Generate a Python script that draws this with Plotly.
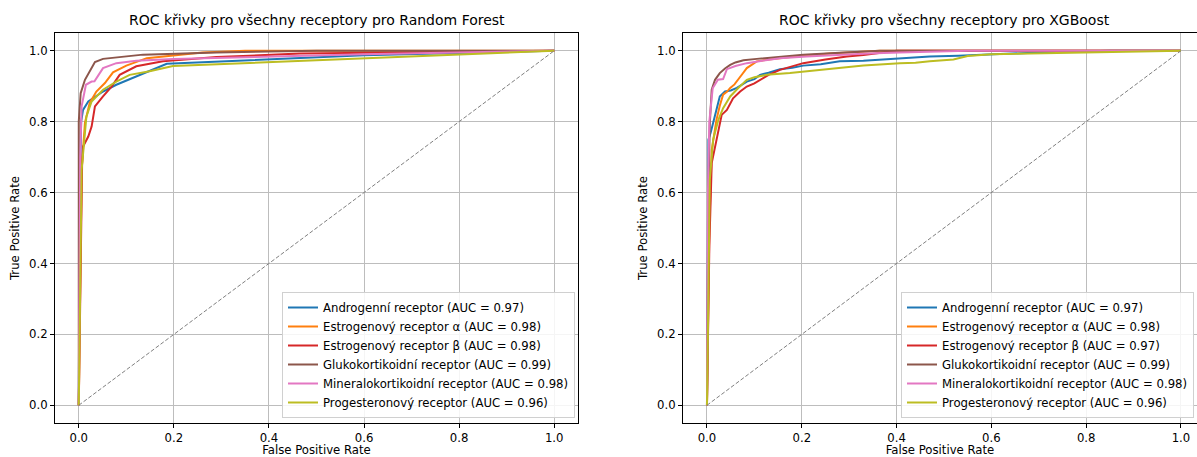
import plotly.graph_objects as go

# ---------------- data ----------------
receptors = ["Androgenní receptor", "Estrogenový receptor α", "Estrogenový receptor β",
             "Glukokortikoidní receptor", "Mineralokortikoidní receptor", "Progesteronový receptor"]
rf_auc = [0.97, 0.98, 0.98, 0.99, 0.98, 0.96]
xgb_auc = [0.97, 0.98, 0.97, 0.99, 0.98, 0.96]
colors = ["#1f77b4", "#ff7f0e", "#d62728", "#8c564b", "#e377c2", "#bcbd22"]

# Random Forest ROC curves
rf_andro_fpr = [0, 0.002, 0.005, 0.009, 0.02, 0.037, 0.051, 0.079, 0.121, 0.185, 0.6, 1.0]
rf_andro_tpr = [0, 0.6, 0.8, 0.833, 0.857, 0.871, 0.885, 0.904, 0.927, 0.963, 0.987, 1.0]
rf_esta_fpr = [0, 0.004, 0.006, 0.013, 0.023, 0.037, 0.055, 0.072, 0.1, 0.143, 0.26, 0.35, 1.0]
rf_esta_tpr = [0, 0.5, 0.664, 0.797, 0.853, 0.885, 0.909, 0.939, 0.958, 0.979, 0.995, 1.0, 1.0]
rf_estb_fpr = [0, 0.004, 0.007, 0.009, 0.02, 0.027, 0.034, 0.051, 0.069, 0.086, 0.121, 0.177, 0.29, 0.465, 1.0]
rf_estb_tpr = [0, 0.5, 0.68, 0.73, 0.758, 0.786, 0.843, 0.871, 0.899, 0.932, 0.956, 0.97, 0.982, 0.992, 1.0]
rf_gluko_fpr = [0, 0.0, 0.004, 0.013, 0.034, 0.051, 0.135, 0.29, 0.5, 1.0]
rf_gluko_tpr = [0, 0.8, 0.88, 0.918, 0.968, 0.977, 0.989, 0.995, 1.0, 1.0]
rf_mineral_fpr = [0, 0.003, 0.006, 0.015, 0.027, 0.033, 0.051, 0.079, 0.121, 0.199, 0.6, 1.0]
rf_mineral_tpr = [0, 0.7, 0.843, 0.904, 0.913, 0.914, 0.951, 0.965, 0.972, 0.977, 0.99, 1.0]
rf_proges_fpr = [0, 0.005, 0.006, 0.016, 0.027, 0.051, 0.079, 0.107, 0.149, 0.198, 0.6, 1.0]
rf_proges_tpr = [0, 0.5, 0.664, 0.814, 0.857, 0.89, 0.913, 0.932, 0.942, 0.957, 0.979, 1.0]

# XGBoost ROC curves
xgb_andro_fpr = [0, 0.002, 0.003, 0.008, 0.013, 0.02, 0.027, 0.038, 0.05, 0.063, 0.075, 0.084, 0.1, 0.112, 0.13, 0.154,
                 0.18, 0.203, 0.24, 0.28, 0.33, 0.4, 0.44, 0.47, 0.53, 0.6, 0.7, 0.85, 1.0]
xgb_andro_tpr = [0, 0.55, 0.749, 0.77, 0.796, 0.84, 0.871, 0.885, 0.888, 0.895, 0.905, 0.913, 0.92, 0.932, 0.938, 0.948,
                 0.952, 0.958, 0.962, 0.97, 0.972, 0.977, 0.981, 0.984, 0.986, 0.99, 0.995, 1.0, 1.0]
xgb_esta_fpr = [0, 0.005, 0.01, 0.015, 0.02, 0.027, 0.034, 0.042, 0.049, 0.058, 0.066, 0.075, 0.084, 0.095, 0.105, 0.13,
                0.154, 0.2, 0.26, 0.31, 0.365, 1.0]
xgb_esta_tpr = [0, 0.5, 0.72, 0.765, 0.805, 0.845, 0.876, 0.884, 0.895, 0.905, 0.918, 0.935, 0.951, 0.962, 0.97, 0.975,
                0.979, 0.986, 0.992, 0.996, 1.0, 1.0]
xgb_estb_fpr = [0, 0.005, 0.01, 0.017, 0.024, 0.031, 0.042, 0.048, 0.055, 0.07, 0.084, 0.1, 0.112, 0.13, 0.154, 0.18,
                0.203, 0.25, 0.295, 0.33, 0.365, 0.4, 1.0]
xgb_estb_tpr = [0, 0.45, 0.683, 0.73, 0.775, 0.819, 0.833, 0.85, 0.866, 0.885, 0.899, 0.908, 0.918, 0.932, 0.946, 0.955,
                0.965, 0.975, 0.984, 0.988, 0.993, 1.0, 1.0]
xgb_gluko_fpr = [0, 0.003, 0.006, 0.01, 0.017, 0.027, 0.038, 0.049, 0.06, 0.077, 0.105, 0.14, 0.175, 0.203, 0.28, 0.365, 1.0]
xgb_gluko_tpr = [0, 0.6, 0.796, 0.89, 0.918, 0.937, 0.95, 0.96, 0.967, 0.973, 0.977, 0.981, 0.984, 0.989, 0.994, 1.0, 1.0]
xgb_mineral_fpr = [0, 0.002, 0.005, 0.012, 0.023, 0.034, 0.042, 0.06, 0.084, 0.12, 0.154, 0.21, 0.28, 0.34, 0.407, 0.55, 1.0]
xgb_mineral_tpr = [0, 0.6, 0.8, 0.894, 0.918, 0.92, 0.948, 0.957, 0.965, 0.972, 0.979, 0.984, 0.989, 0.992, 0.995, 1.0, 1.0]
xgb_proges_fpr = [0, 0.004, 0.006, 0.013, 0.024, 0.034, 0.049, 0.066, 0.084, 0.1, 0.126, 0.175, 0.238, 0.28, 0.33, 0.407,
                  0.44, 0.47, 0.52, 0.55, 0.6, 1.0]
xgb_proges_tpr = [0, 0.4, 0.636, 0.749, 0.805, 0.838, 0.871, 0.895, 0.918, 0.925, 0.932, 0.937, 0.946, 0.952, 0.958, 0.965,
                  0.966, 0.97, 0.975, 0.985, 0.99, 1.0]

diag = [0, 1]

rf_curves = [(rf_andro_fpr, rf_andro_tpr), (rf_esta_fpr, rf_esta_tpr), (rf_estb_fpr, rf_estb_tpr),
             (rf_gluko_fpr, rf_gluko_tpr), (rf_mineral_fpr, rf_mineral_tpr), (rf_proges_fpr, rf_proges_tpr)]
xgb_curves = [(xgb_andro_fpr, xgb_andro_tpr), (xgb_esta_fpr, xgb_esta_tpr), (xgb_estb_fpr, xgb_estb_tpr),
              (xgb_gluko_fpr, xgb_gluko_tpr), (xgb_mineral_fpr, xgb_mineral_tpr), (xgb_proges_fpr, xgb_proges_tpr)]

# ---------------- figure ----------------
W, H = 1197, 457
ML, MR, MT, MB = 55, 0, 33, 34
plot_w = W - ML - MR
FONT = "DejaVu Sans"
FS = 11.7

fig = go.Figure()

for i in range(6):
    fx, ty = rf_curves[i]
    fig.add_trace(go.Scatter(x=fx, y=ty, mode="lines",
                             line=dict(color=colors[i], width=2),
                             name=f"{receptors[i]} (AUC = {rf_auc[i]:.2f})",
                             xaxis="x", yaxis="y", legend="legend"))
fig.add_trace(go.Scatter(x=diag, y=diag, mode="lines", line=dict(color="grey", width=1, dash="4px,2px"),
                         showlegend=False, xaxis="x", yaxis="y", hoverinfo="skip"))

for i in range(6):
    fx, ty = xgb_curves[i]
    fig.add_trace(go.Scatter(x=fx, y=ty, mode="lines",
                             line=dict(color=colors[i], width=2),
                             name=f"{receptors[i]} (AUC = {xgb_auc[i]:.2f})",
                             xaxis="x2", yaxis="y2", legend="legend2"))
fig.add_trace(go.Scatter(x=diag, y=diag, mode="lines", line=dict(color="grey", width=1, dash="4px,2px"),
                         showlegend=False, xaxis="x2", yaxis="y2", hoverinfo="skip"))

d1 = [0, (578 - ML) / plot_w]
d2 = [(683 - ML) / plot_w, 1]

axis_common = dict(
    showgrid=True, gridcolor="#bdbdbd", gridwidth=1, zeroline=False,
    showline=True, linecolor="black", linewidth=1,
    ticks="outside", ticklen=4, tickcolor="black", tickwidth=1,
    tick0=0, dtick=0.2, tickformat=".1f",
    tickfont=dict(family=FONT, size=FS, color="black"),
)

legend_common = dict(xanchor="right", yanchor="bottom",
                     bgcolor="rgba(255,255,255,0.85)", bordercolor="#d0d0d0", borderwidth=1,
                     font=dict(family=FONT, size=FS, color="black"), itemwidth=30, tracegroupgap=0)

fig.update_layout(
    width=W, height=H,
    margin=dict(l=ML, r=MR, t=MT, b=MB),
    paper_bgcolor="white", plot_bgcolor="white",
    font=dict(family=FONT, size=FS, color="black"),
    xaxis=dict(domain=d1, range=[-0.05, 1.05], mirror=True,
               title=dict(text="False Positive Rate", standoff=3, font=dict(size=FS)),
               anchor="y", **axis_common),
    yaxis=dict(domain=[0, 1], range=[-0.05, 1.05], mirror=True,
               title=dict(text="True Positive Rate", standoff=6, font=dict(size=FS)),
               anchor="x", **axis_common),
    xaxis2=dict(domain=d2, range=[-0.0506, 1.0338], mirror=True,
                title=dict(text="False Positive Rate", standoff=3, font=dict(size=FS)),
                anchor="y2", **axis_common),
    yaxis2=dict(domain=[0, 1], range=[-0.05, 1.05], mirror=False,
                title=dict(text="True Positive Rate", standoff=6, font=dict(size=FS)),
                anchor="x2", **axis_common),
    legend=dict(x=(575 - ML) / plot_w, y=(423 - 418) / (H - MT - MB), **legend_common),
    legend2=dict(x=(1194 - ML) / plot_w, y=(423 - 418) / (H - MT - MB), **legend_common),
    annotations=[
        dict(text="ROC křivky pro všechny receptory pro Random Forest", xref="paper", yref="paper",
             x=(d1[0] + d1[1]) / 2, y=1, yshift=13, xanchor="center", yanchor="middle",
             showarrow=False, font=dict(family=FONT, size=14, color="black")),
        dict(text="ROC křivky pro všechny receptory pro XGBoost", xref="paper", yref="paper",
             x=((707 - ML) / plot_w + (1181 - ML) / plot_w) / 2, y=1, yshift=13, xanchor="center", yanchor="middle",
             showarrow=False, font=dict(family=FONT, size=14, color="black")),
    ],
    showlegend=True,
)

fig.write_html("out.html")
